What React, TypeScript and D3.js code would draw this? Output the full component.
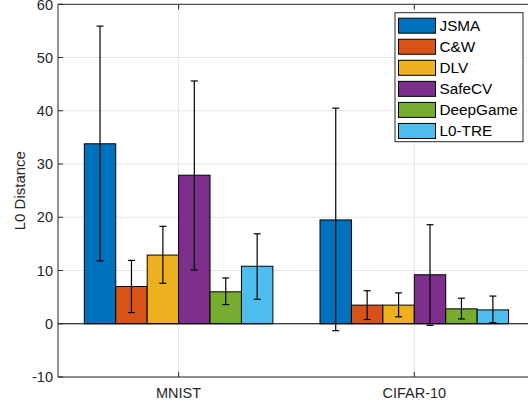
import React from "react";
import * as d3 from "d3";

const categories = ["MNIST", "CIFAR-10"];
const methods = ["JSMA", "C&W", "DLV", "SafeCV", "DeepGame", "L0-TRE"];
const colors = ["#0072BD", "#D95319", "#EDB120", "#7E2F8E", "#77AC30", "#4DBEEE"];
// values[method][category]
const means = [
  [33.8, 19.5],
  [7.0, 3.5],
  [12.9, 3.5],
  [27.9, 9.2],
  [6.0, 2.8],
  [10.8, 2.6],
];
const errLow = [
  [11.8, -1.3],
  [2.1, 0.8],
  [7.6, 1.3],
  [10.1, -0.3],
  [3.6, 0.9],
  [4.6, 0.2],
];
const errHigh = [
  [55.9, 40.5],
  [11.9, 6.2],
  [18.3, 5.8],
  [45.6, 18.6],
  [8.6, 4.8],
  [16.9, 5.2],
];
const yTicks = [-10, 0, 10, 20, 30, 40, 50, 60];

export default function App() {
  const W = 528, H = 407;
  const left = 58, right = 532, top = 4.3, bottom = 377;
  const y = d3.scaleLinear().domain([-10, 60]).range([bottom, top]);
  const x = d3.scaleLinear().domain([1, 2]).range([178.6, 414.3]);
  const unit = x(2) - x(1);
  const groupW = 0.8;
  const bw = (groupW / methods.length) * unit;
  const font = "'Liberation Sans', Arial, Helvetica, sans-serif";
  const txt = "#262626";

  return (
    <svg width={W} height={H} style={{ position: "absolute", left: 0, top: 0 }}>
      <rect x={0} y={0} width={W} height={H} fill="#fff" />
      {/* grid */}
      {yTicks.map((t) => (
        <line key={"g" + t} x1={left} x2={right} y1={y(t)} y2={y(t)} stroke="#e6e6e6" strokeWidth={1} />
      ))}
      {categories.map((c, i) => (
        <line key={"gx" + c} x1={x(i + 1)} x2={x(i + 1)} y1={top} y2={bottom} stroke="#e6e6e6" strokeWidth={1} />
      ))}
      {/* bars */}
      {categories.map((c, ci) =>
        methods.map((m, mi) => {
          const cx = x(ci + 1) - (groupW * unit) / 2 + bw * (mi + 0.5);
          const v = means[mi][ci];
          return (
            <rect
              key={c + m}
              x={cx - bw / 2}
              y={y(Math.max(v, 0))}
              width={bw}
              height={Math.abs(y(v) - y(0))}
              fill={colors[mi]}
              stroke="#000"
              strokeWidth={1}
            />
          );
        })
      )}
      {/* zero baseline */}
      <line x1={left} x2={right} y1={y(0)} y2={y(0)} stroke="#000" strokeWidth={1} />
      {/* error bars */}
      {categories.map((c, ci) =>
        methods.map((m, mi) => {
          const cx = x(ci + 1) - (groupW * unit) / 2 + bw * (mi + 0.5);
          const lo = y(errLow[mi][ci]);
          const hi = y(errHigh[mi][ci]);
          return (
            <g key={"e" + c + m} stroke="#000" strokeWidth={1.2}>
              <line x1={cx} x2={cx} y1={lo} y2={hi} />
              <line x1={cx - 3.5} x2={cx + 3.5} y1={lo} y2={lo} />
              <line x1={cx - 3.5} x2={cx + 3.5} y1={hi} y2={hi} />
            </g>
          );
        })
      )}
      {/* axes box */}
      <line x1={left} x2={right} y1={top} y2={top} stroke="#262626" strokeWidth={1} />
      <line x1={left} x2={right} y1={bottom} y2={bottom} stroke="#262626" strokeWidth={1} />
      <line x1={left} x2={left} y1={top} y2={bottom} stroke="#262626" strokeWidth={1} />
      {/* y ticks */}
      {yTicks.map((t) => (
        <g key={"yt" + t}>
          <line x1={left} x2={left + 5} y1={y(t)} y2={y(t)} stroke="#262626" />
          <text x={left - 5} y={y(t)} dy="0.36em" textAnchor="end" fontFamily={font} fontSize={14.5} fill={txt}>
            {t}
          </text>
        </g>
      ))}
      {/* x ticks */}
      {categories.map((c, i) => (
        <g key={"xt" + c}>
          <line x1={x(i + 1)} x2={x(i + 1)} y1={bottom} y2={bottom - 5} stroke="#262626" />
          <line x1={x(i + 1)} x2={x(i + 1)} y1={top} y2={top + 5} stroke="#262626" />
          <text x={x(i + 1)} y={bottom + 20.5} textAnchor="middle" fontFamily={font} fontSize={14.5} fill={txt}>
            {c}
          </text>
        </g>
      ))}
      {/* y label */}
      <text
        transform={`translate(24.5, ${(top + bottom) / 2}) rotate(-90)`}
        textAnchor="middle"
        fontFamily={font}
        fontSize={15}
        fill={txt}
      >
        L0 Distance
      </text>
      {/* legend */}
      <g>
        <rect x={395} y={12.7} width={128} height={129} fill="#fff" stroke="#262626" strokeWidth={1} />
        {methods.map((m, i) => {
          const cy = 25.7 + i * 21.05;
          return (
            <g key={"l" + m}>
              <rect x={398.5} y={cy - 7.5} width={37} height={15} fill={colors[i]} stroke="#000" strokeWidth={1} />
              <text x={439.5} y={cy} dy="0.36em" fontFamily={font} fontSize={15.3} fill="#000">
                {m}
              </text>
            </g>
          );
        })}
      </g>
    </svg>
  );
}
